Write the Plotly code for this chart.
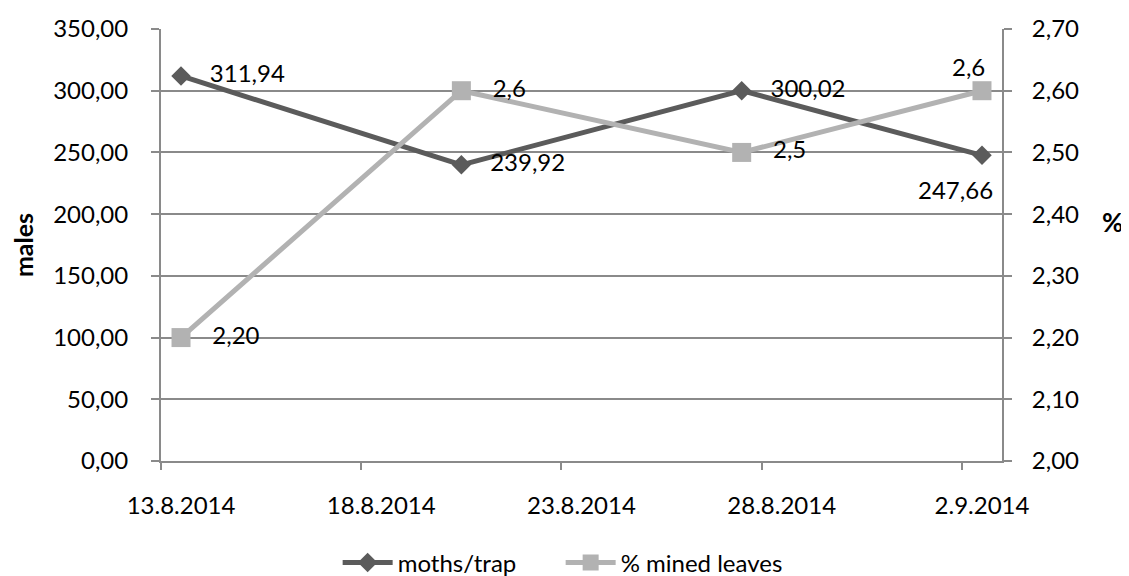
import plotly.graph_objects as go
import pandas as pd

dates = ["2014-08-13", "2014-08-20", "2014-08-27", "2014-09-02"]
moths = [311.94, 239.92, 300.02, 247.66]
mined = [2.20, 2.6, 2.5, 2.6]
mined_decimals = [2, 1, 1, 1]
tick_dates = ["2014-08-13", "2014-08-18", "2014-08-23", "2014-08-28", "2014-09-02"]
tick_labels = ["13.8.2014", "18.8.2014", "23.8.2014", "28.8.2014", "2.9.2014"]
x_range = ["2014-08-13", "2014-09-03"]

PAD = "\u00a0\u00a0\u00a0"
moth_lbl = [f"{v:.2f}".replace(".", ",") for v in moths]
mined_lbl = [f"{v:.{d}f}".replace(".", ",") for v, d in zip(mined, mined_decimals)]

# the last point of each series gets its label as an annotation (placed below / above)
moth_text = [PAD + t for t in moth_lbl[:-1]] + [""]
mined_text = [PAD + t for t in mined_lbl[:-1]] + [""]


def mid_day(d):
    return (pd.Timestamp(d) + pd.Timedelta(hours=12)).strftime("%Y-%m-%d %H:%M")


# labels centred on each day (Excel date-axis style), tick marks on day boundaries
label_vals = [mid_day(d) for d in tick_dates]

DARK = "#5b5b5b"
LIGHT = "#b2b2b2"
GRID = "#8a8a8a"
FONT = "Lato"
FS = 24

fig = go.Figure()
fig.add_trace(go.Scatter(
    x=dates, y=moths, name="moths/trap", mode="lines+markers+text",
    xperiod=86400000, xperiodalignment="middle",
    line=dict(color=DARK, width=5),
    marker=dict(symbol="diamond", size=15, color=DARK),
    text=moth_text, textposition="middle right",
    textfont=dict(size=FS, color="#000000", family=FONT),
    yaxis="y", cliponaxis=False,
))
fig.add_trace(go.Scatter(
    x=dates, y=mined, name="% mined leaves", mode="lines+markers+text",
    xperiod=86400000, xperiodalignment="middle",
    line=dict(color=LIGHT, width=5),
    marker=dict(symbol="square", size=19, color=LIGHT),
    text=mined_text, textposition="middle right",
    textfont=dict(size=FS, color="#000000", family=FONT),
    yaxis="y2", cliponaxis=False,
))

fig.update_layout(
    width=1121, height=568,
    margin=dict(l=153, r=127, t=21, b=115, autoexpand=False),
    paper_bgcolor="white", plot_bgcolor="white",
    font=dict(family=FONT, size=FS, color="#000000"),
    separators=", ",
    showlegend=True,
    legend=dict(orientation="h", xref="container", yref="container",
                x=0.493, xanchor="center", y=0.023, yanchor="middle",
                font=dict(size=FS), itemwidth=50,
                entrywidth=158, entrywidthmode="pixels"),
    xaxis=dict(
        type="date", range=x_range, automargin=False,
        tickvals=label_vals, ticktext=tick_labels, ticks="",
        ticklabelstandoff=22,
        minor=dict(tickvals=tick_dates, ticks="outside", ticklen=7,
                   tickcolor=GRID, tickwidth=2, showgrid=False),
        showgrid=False, showline=True, linecolor=GRID, linewidth=2,
        zeroline=False,
    ),
    yaxis=dict(
        range=[0, 350], dtick=50, tickformat=".2f", automargin=False,
        showgrid=True, gridcolor=GRID, gridwidth=1.5,
        showline=True, linecolor=GRID, linewidth=2,
        ticks="outside", ticklen=8, tickcolor=GRID, tickwidth=2,
        ticklabelstandoff=18,
        zeroline=False,
        title=dict(text="<b>males</b>", font=dict(size=25), standoff=18),
    ),
    yaxis2=dict(
        range=[2.0, 2.7], dtick=0.1, tickformat=".2f", automargin=False,
        overlaying="y", side="right",
        showgrid=False, showline=True, linecolor=GRID, linewidth=2,
        ticks="outside", ticklen=8, tickcolor=GRID, tickwidth=2,
        ticklabelstandoff=15,
        zeroline=False,
    ),
    annotations=[
        dict(text=moth_lbl[-1], x=mid_day(dates[-1]), y=moths[-1], xref="x", yref="y",
             xanchor="right", yanchor="top", xshift=13, yshift=-18,
             showarrow=False, font=dict(size=FS)),
        dict(text=mined_lbl[-1], x=mid_day(dates[-1]), y=mined[-1], xref="x", yref="y2",
             xanchor="right", yanchor="bottom", xshift=5, yshift=8,
             showarrow=False, font=dict(size=FS)),
        dict(text="<b>%</b>", xref="paper", yref="paper", x=1.131, y=0.554,
             xanchor="center", yanchor="middle",
             showarrow=False, font=dict(size=26)),
    ],
)

fig.write_html("out.html")
